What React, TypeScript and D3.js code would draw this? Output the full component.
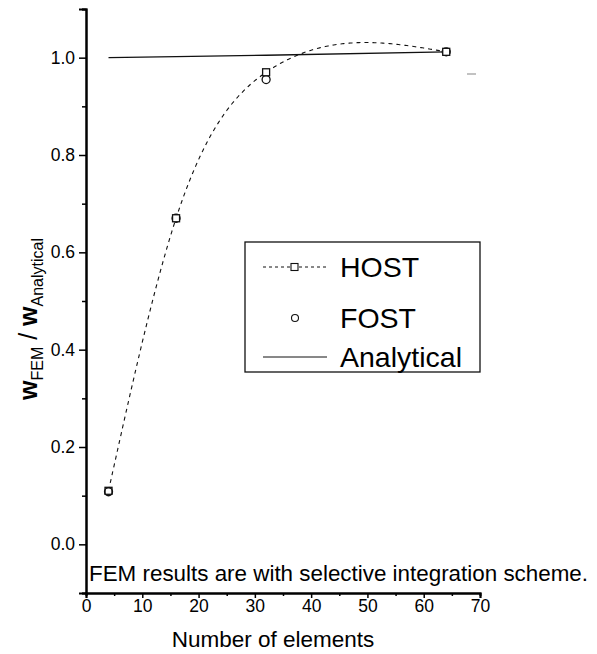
import React, { useEffect, useRef } from 'react';
import * as d3 from 'd3';

// values
const elements = [4, 16, 32, 64];
const hostValues = [0.11, 0.67, 0.97, 1.012];
const fostValues = [0.108, 0.67, 0.955, 1.012];
const analyticalValues = [1.0, 1.002, 1.005, 1.012];
const xTicks = [0, 10, 20, 30, 40, 50, 60, 70];
const yTicks = [0.0, 0.2, 0.4, 0.6, 0.8, 1.0];
const legendLabels = ['HOST', 'FOST', 'Analytical'];
const note = 'FEM results are with selective integration scheme.';

const FONT = '"Liberation Sans", Arial, Helvetica, sans-serif';

// natural cubic spline y(x) through the points (Origin-style spline connector)
function naturalSpline(xs: number[], ys: number[]) {
  const n = xs.length;
  const h = d3.range(n - 1).map(i => xs[i + 1] - xs[i]);
  const M = new Array(n).fill(0);
  // tridiagonal solve for inner second derivatives
  const a: number[] = [], b: number[] = [], c: number[] = [], r: number[] = [];
  for (let i = 1; i < n - 1; i++) {
    a.push(h[i - 1]);
    b.push(2 * (h[i - 1] + h[i]));
    c.push(h[i]);
    r.push(6 * ((ys[i + 1] - ys[i]) / h[i] - (ys[i] - ys[i - 1]) / h[i - 1]));
  }
  const m = r.length;
  for (let i = 1; i < m; i++) {
    const w = a[i] / b[i - 1];
    b[i] -= w * c[i - 1];
    r[i] -= w * r[i - 1];
  }
  for (let i = m - 1; i >= 0; i--) {
    M[i + 1] = (r[i] - (i < m - 1 ? c[i] * M[i + 2] : 0)) / b[i];
  }
  return (x: number) => {
    let k = 0;
    while (k < n - 2 && x > xs[k + 1]) k++;
    const hk = h[k], t1 = xs[k + 1] - x, t0 = x - xs[k];
    return M[k] * t1 ** 3 / (6 * hk) + M[k + 1] * t0 ** 3 / (6 * hk)
      + (ys[k] / hk - M[k] * hk / 6) * t1 + (ys[k + 1] / hk - M[k + 1] * hk / 6) * t0;
  };
}

export default function App() {
  const svgRef = useRef<SVGSVGElement>(null);

  useEffect(() => {
    const svg = d3.select(svgRef.current);
    svg.selectAll('*').remove();

    const left = 86, right = 480, top = 9, bottom = 593; // plot box

    const x = d3.scaleLinear().domain([0, 70]).range([left, right]);
    const y = d3.scaleLinear().domain([-0.1, 1.1]).range([bottom, top]);

    // y axis
    const yAxis = svg.append('g').attr('transform', `translate(${left},0)`);
    yAxis.call(d3.axisLeft(y).tickValues(yTicks).tickFormat(d3.format('.1f')).tickSize(7).tickPadding(4) as any);
    yAxis.append('g').call(d3.axisLeft(y).tickValues([-0.1, 0.1, 0.3, 0.5, 0.7, 0.9, 1.1]).tickFormat(() => '').tickSize(4) as any);
    yAxis.selectAll('path.domain').attr('stroke-width', 2);
    yAxis.selectAll('line').attr('stroke-width', 1.5);
    yAxis.selectAll('text').attr('font-size', 17.5).attr('font-family', FONT).attr('fill', '#000');

    // x axis
    const xAxis = svg.append('g').attr('transform', `translate(0,${bottom})`);
    xAxis.call(d3.axisBottom(x).tickValues(xTicks).tickFormat(d3.format('d')).tickSize(5).tickPadding(2) as any);
    xAxis.append('g').call(d3.axisBottom(x).tickValues(d3.range(5, 70, 10)).tickFormat(() => '').tickSize(3) as any);
    xAxis.selectAll('path.domain').attr('stroke-width', 2);
    xAxis.selectAll('line').attr('stroke-width', 1.5);
    xAxis.selectAll('text').attr('font-size', 17.5).attr('font-family', FONT).attr('fill', '#000');

    // analytical solid line
    const line = d3.line<number>().x((d, i) => x(elements[i])).y(d => y(d));
    svg.append('path')
      .attr('d', line(analyticalValues))
      .attr('fill', 'none').attr('stroke', '#111').attr('stroke-width', 1.3);

    // HOST dashed spline curve
    const spline = naturalSpline(elements, hostValues);
    const xs = d3.range(elements[0], elements[elements.length - 1] + 0.01, 0.25);
    const curve = d3.line<number>().x(d => x(d)).y(d => y(spline(d)));
    svg.append('path')
      .attr('d', curve(xs))
      .attr('fill', 'none').attr('stroke', '#111').attr('stroke-width', 1.1)
      .attr('stroke-dasharray', '4,4');

    // FOST circles
    svg.selectAll('.fost').data(fostValues).enter().append('circle')
      .attr('class', 'fost')
      .attr('cx', (d, i) => x(elements[i])).attr('cy', d => y(d)).attr('r', 4)
      .attr('fill', '#fff').attr('stroke', '#111').attr('stroke-width', 1.3);

    // HOST squares
    svg.selectAll('.host').data(hostValues).enter().append('rect')
      .attr('class', 'host')
      .attr('x', (d, i) => x(elements[i]) - 3.5).attr('y', d => y(d) - 3.5)
      .attr('width', 7).attr('height', 7)
      .attr('fill', (d, i) => (i === 0 ? 'none' : '#fff'))
      .attr('stroke', '#111').attr('stroke-width', 1.3);

    // small grey dash on the right (as in the scan)
    svg.append('line').attr('x1', 467).attr('x2', 476).attr('y1', 74).attr('y2', 74)
      .attr('stroke', '#999').attr('stroke-width', 1.2);

    // legend
    const lg = svg.append('g');
    lg.append('rect').attr('x', 245).attr('y', 242).attr('width', 235).attr('height', 130)
      .attr('fill', '#fff').attr('stroke', '#111').attr('stroke-width', 1.3);
    const rows = [267, 318, 357];
    lg.append('line').attr('x1', 263).attr('x2', 327).attr('y1', rows[0]).attr('y2', rows[0])
      .attr('stroke', '#111').attr('stroke-width', 1).attr('stroke-dasharray', '3,3');
    lg.append('rect').attr('x', 291).attr('y', rows[0] - 3.5).attr('width', 7).attr('height', 7)
      .attr('fill', '#fff').attr('stroke', '#111').attr('stroke-width', 1.1);
    lg.append('circle').attr('cx', 295).attr('cy', rows[1]).attr('r', 3.5)
      .attr('fill', '#fff').attr('stroke', '#111').attr('stroke-width', 1.1);
    lg.append('line').attr('x1', 263).attr('x2', 327).attr('y1', rows[2]).attr('y2', rows[2])
      .attr('stroke', '#111').attr('stroke-width', 1);
    lg.selectAll('.lt').data(legendLabels).enter().append('text')
      .attr('class', 'lt')
      .attr('x', 340).attr('y', (d, i) => rows[i] + 10)
      .attr('font-size', 28.5).attr('font-family', FONT).attr('fill', '#000')
      .text(d => d);

    // note inside plot
    svg.append('text').attr('x', 89).attr('y', 581)
      .attr('font-size', 22.4).attr('font-family', FONT).attr('fill', '#000')
      .text(note);

    // axis titles
    svg.append('text').attr('x', 273).attr('y', 647)
      .attr('text-anchor', 'middle').attr('font-size', 22.5).attr('font-family', FONT).attr('fill', '#000')
      .text('Number of elements');

    const yt = svg.append('text')
      .attr('transform', `translate(37,${(top + bottom) / 2 + 18}) rotate(-90)`)
      .attr('text-anchor', 'middle').attr('font-size', 25).attr('font-family', FONT).attr('fill', '#000');
    yt.append('tspan').attr('font-weight', 'bold').text('w');
    yt.append('tspan').attr('font-size', 16).attr('dy', 6).text('FEM');
    yt.append('tspan').attr('dy', -6).text(' / ');
    yt.append('tspan').attr('font-weight', 'bold').text('w');
    yt.append('tspan').attr('font-size', 16).attr('dy', 6).text('Analytical');
  }, []);

  return (
    <svg ref={svgRef} width={597} height={654}
      style={{ position: 'absolute', left: 0, top: 0, background: '#fff' }} />
  );
}
